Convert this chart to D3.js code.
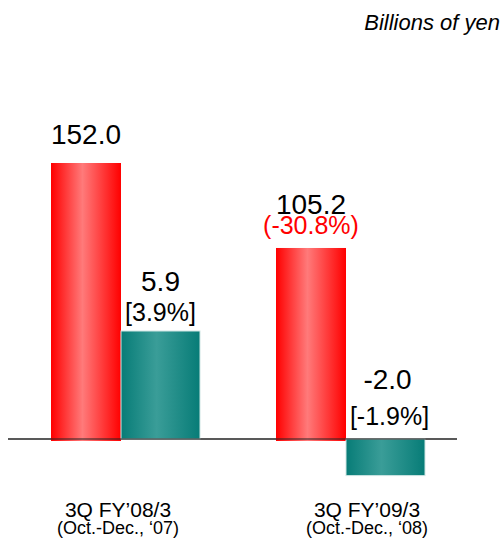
<!DOCTYPE html>
<html>
<head>
<meta charset="utf-8">
<script src="https://cdn.jsdelivr.net/npm/d3@7"></script>
<style>
  body { margin: 0; background: #fff; }
  text { font-family: "Liberation Sans", Arial, sans-serif; }
</style>
</head>
<body>
<svg id="chart"></svg>
<script>
// data
const periods = ["3Q FY\u201908/3", "3Q FY\u201909/3"];
const periodSub = ["(Oct.-Dec., \u201807)", "(Oct.-Dec., \u201808)"];
const sales = [152.0, 105.2];
const salesChange = [null, "(-30.8%)"];
const profit = [5.9, -2.0];
const profitMargin = ["[3.9%]", "[-1.9%]"];

// set the dimensions of the canvas
const width = 501;
const height = 540;
const baseY = 439;

const svg = d3.select("#chart")
  .attr("width", width)
  .attr("height", height);

// gradients for the bars
const defs = svg.append("defs");
function addGradient(id, edge, mid) {
  const g = defs.append("linearGradient").attr("id", id)
    .attr("x1", "0%").attr("x2", "100%").attr("y1", "0%").attr("y2", "0%");
  g.append("stop").attr("offset", "0%").attr("stop-color", edge);
  g.append("stop").attr("offset", "45%").attr("stop-color", mid);
  g.append("stop").attr("offset", "100%").attr("stop-color", edge);
}
addGradient("redGrad", "#ff0000", "#ff7a7a");
addGradient("tealGrad", "#077c77", "#3a9d98");

// x scale for the groups, y scales for sales and profit (profit is 10x)
const x = d3.scaleBand().domain(periods).range([51, 501]).paddingInner(0).paddingOuter(0);
const ySales = d3.scaleLinear().domain([0, 152]).range([baseY, 163]);
const yProfit = d3.scaleLinear().domain([0, 5.9]).range([baseY, 331]);
const xLabel = d3.scalePoint().domain(periods).range([118, 367]);

const redW = 70, tealW = 79;

// axis line
svg.append("line")
  .attr("x1", 8).attr("x2", 457)
  .attr("y1", baseY).attr("y2", baseY)
  .attr("stroke", "#222").attr("stroke-width", 1.2);

// sales bars
svg.append("g").selectAll("rect")
  .data(sales)
  .enter().append("rect")
  .attr("x", (d, i) => x(periods[i]))
  .attr("y", (d) => ySales(d))
  .attr("width", redW)
  .attr("height", (d) => ySales(0) - ySales(d) + 2)
  .attr("fill", "url(#redGrad)");

// profit bars
svg.append("g").selectAll("rect")
  .data(profit)
  .enter().append("rect")
  .attr("x", (d, i) => x(periods[i]) + redW)
  .attr("y", (d) => Math.min(yProfit(d), yProfit(0)))
  .attr("width", tealW)
  .attr("height", (d) => Math.abs(yProfit(d) - yProfit(0)))
  .attr("fill", "url(#tealGrad)")
  .attr("stroke", "#cfe6e4")
  .attr("stroke-width", 1);

// axis line drawn again over the bars
svg.append("line")
  .attr("x1", 8).attr("x2", 457)
  .attr("y1", baseY).attr("y2", baseY)
  .attr("stroke", "#222").attr("stroke-width", 1.2);

// sales labels
sales.forEach((d, i) => {
  const cx = x(periods[i]) + redW / 2;
  const top = ySales(d);
  if (salesChange[i]) {
    svg.append("text").attr("x", cx).attr("y", top - 34)
      .attr("text-anchor", "middle").attr("font-size", 28).attr("fill", "#000")
      .text(d.toFixed(1));
    svg.append("text").attr("x", cx).attr("y", top - 14)
      .attr("text-anchor", "middle").attr("font-size", 25).attr("fill", "#ff0000")
      .text(salesChange[i]);
  } else {
    svg.append("text").attr("x", cx).attr("y", top - 19)
      .attr("text-anchor", "middle").attr("font-size", 28).attr("fill", "#000")
      .text(d.toFixed(1));
  }
});

// profit labels
profit.forEach((d, i) => {
  const cx = x(periods[i]) + redW + tealW / 2;
  const top = Math.min(yProfit(d), yProfit(0));
  const gap = d < 0 ? 36 : 30;
  svg.append("text").attr("x", cx + (d < 0 ? 2 : 0)).attr("y", top - (d < 0 ? 14 : 10) - gap)
    .attr("text-anchor", "middle").attr("font-size", 28).attr("fill", "#000")
    .text(d.toFixed(1));
  svg.append("text").attr("x", cx + (d < 0 ? 4 : 0)).attr("y", top - (d < 0 ? 14 : 10))
    .attr("text-anchor", "middle").attr("font-size", 25).attr("fill", "#000")
    .text(profitMargin[i]);
});

// category labels
periods.forEach((p, i) => {
  svg.append("text").attr("x", xLabel(p)).attr("y", 517)
    .attr("text-anchor", "middle").attr("font-size", 21).attr("fill", "#000")
    .text(p);
  svg.append("text").attr("x", xLabel(p)).attr("y", 534)
    .attr("text-anchor", "middle").attr("font-size", 18).attr("fill", "#000")
    .text(periodSub[i]);
});

// unit label
svg.append("text").attr("x", 500).attr("y", 30)
  .attr("text-anchor", "end").attr("font-size", 22).attr("font-style", "italic")
  .attr("fill", "#000")
  .text("Billions of yen");
</script>
</body>
</html>
